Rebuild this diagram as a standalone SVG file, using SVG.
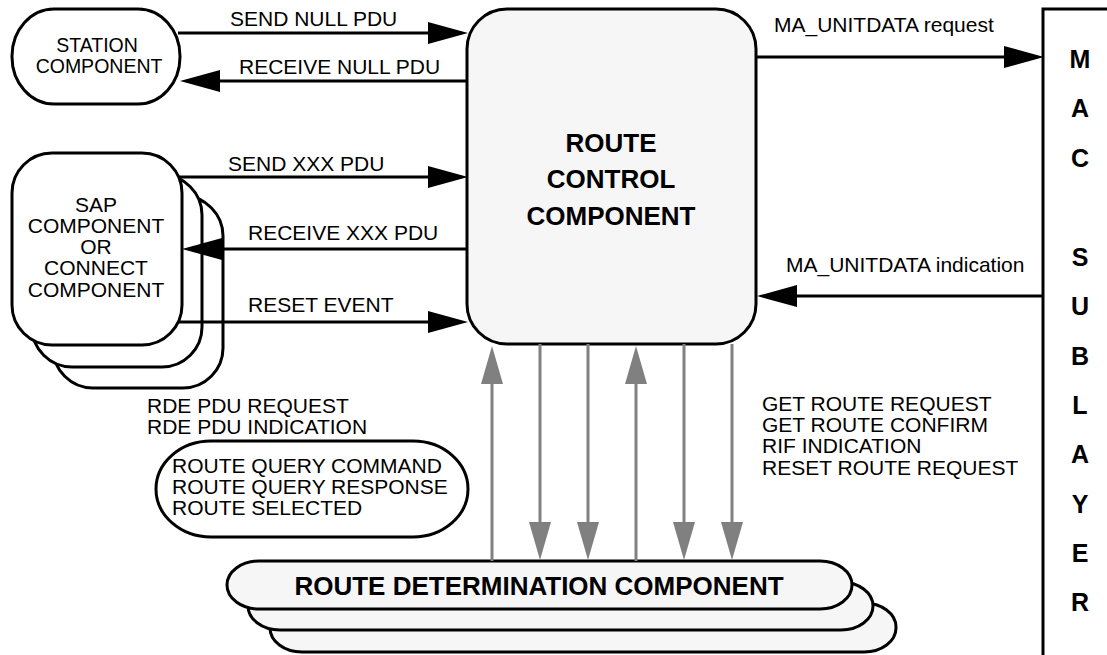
<svg xmlns="http://www.w3.org/2000/svg" width="1107" height="655" viewBox="0 0 1107 655">
<style>
  .box { fill: #ffffff; stroke: #000000; stroke-width: 3; }
  .gbox { fill: #f6f6f6; stroke: #000000; stroke-width: 3; }
  .t { font-family: "Liberation Sans", Arial, sans-serif; font-size: 21px; fill: #000000; }
  .ts { font-family: "Liberation Sans", Arial, sans-serif; font-size: 19.5px; fill: #000000; }
  .tb { font-family: "Liberation Sans", Arial, sans-serif; font-size: 26px; font-weight: bold; fill: #000000; }
  .tm { font-family: "Liberation Sans", Arial, sans-serif; font-size: 25px; font-weight: bold; fill: #000000; }
  .c { text-anchor: middle; }
  .blk { stroke: #000000; stroke-width: 3; fill: none; marker-end: url(#ah); }
  .gry { stroke: #808080; stroke-width: 3; fill: none; marker-end: url(#gh); }
</style>
<defs>
  <marker id="ah" markerUnits="userSpaceOnUse" markerWidth="40" markerHeight="22" refX="0" refY="11" orient="auto" viewBox="0 0 40 22">
    <path d="M0,0 L40,11 L0,22 z" fill="#000000"/>
  </marker>
  <marker id="gh" markerUnits="userSpaceOnUse" markerWidth="38" markerHeight="22" refX="0" refY="11" orient="auto" viewBox="0 0 38 22">
    <path d="M0,0 L38,11 L0,22 z" fill="#808080"/>
  </marker>
</defs>

<g id="station">
  <rect class="box" x="12" y="9" width="168" height="95" rx="42" ry="47"/>
  <text class="ts c" x="97" y="52">STATION</text>
  <text class="ts c" x="99" y="73">COMPONENT</text>
</g>

<g id="sap">
  <rect class="box" x="53" y="196" width="170" height="192" rx="40" ry="40"/>
  <rect class="box" x="32" y="175" width="170" height="192" rx="40" ry="40"/>
  <rect class="box" x="12" y="153" width="170" height="192" rx="40" ry="40"/>
  <text class="t c" x="96" y="212">SAP</text>
  <text class="t c" x="96" y="233">COMPONENT</text>
  <text class="t c" x="96" y="254">OR</text>
  <text class="t c" x="96" y="275">CONNECT</text>
  <text class="t c" x="96" y="297">COMPONENT</text>
</g>

<g id="route-control">
  <rect class="gbox" x="467" y="9" width="289" height="335" rx="40" ry="40"/>
  <text class="tb c" x="611" y="152">ROUTE</text>
  <text class="tb c" x="611" y="188">CONTROL</text>
  <text class="tb c" x="611" y="225">COMPONENT</text>
</g>

<g id="mac-sublayer">
  <rect class="box" x="1043" y="9" width="120" height="700"/>
  <text class="tm c" x="1080" y="68">M</text>
  <text class="tm c" x="1080" y="117">A</text>
  <text class="tm c" x="1080" y="167">C</text>
  <text class="tm c" x="1080" y="266">S</text>
  <text class="tm c" x="1080" y="315">U</text>
  <text class="tm c" x="1080" y="365">B</text>
  <text class="tm c" x="1080" y="414">L</text>
  <text class="tm c" x="1080" y="463">A</text>
  <text class="tm c" x="1080" y="513">Y</text>
  <text class="tm c" x="1080" y="562">E</text>
  <text class="tm c" x="1080" y="611">R</text>
</g>

<g id="route-query">
  <rect class="box" x="156" y="441" width="312" height="96" rx="55" ry="48"/>
  <text class="t" x="172" y="473">ROUTE QUERY COMMAND</text>
  <text class="t" x="172" y="494">ROUTE QUERY RESPONSE</text>
  <text class="t" x="172" y="515">ROUTE SELECTED</text>
</g>

<g id="route-determination">
  <rect class="gbox" x="270" y="603" width="626" height="49" rx="32" ry="24"/>
  <rect class="gbox" x="248" y="582" width="625" height="48" rx="32" ry="24"/>
  <rect class="gbox" x="227" y="561" width="625" height="48" rx="32" ry="24"/>
  <text class="tb c" x="539" y="595">ROUTE DETERMINATION COMPONENT</text>
</g>

<g id="connectors">
  <line class="blk" x1="178" y1="33" x2="428" y2="33"/>
  <line class="blk" x1="467" y1="81" x2="220" y2="81"/>
  <line class="blk" x1="178" y1="177" x2="428" y2="177"/>
  <line class="blk" x1="467" y1="249" x2="222" y2="249"/>
  <line class="blk" x1="178" y1="322" x2="428" y2="322"/>
  <line class="blk" x1="756" y1="57" x2="1004" y2="57"/>
  <line class="blk" x1="1043" y1="296" x2="797" y2="296"/>

  <line class="gry" x1="492" y1="561" x2="492" y2="384"/>
  <line class="gry" x1="540" y1="344" x2="540" y2="522"/>
  <line class="gry" x1="588" y1="344" x2="588" y2="522"/>
  <line class="gry" x1="636" y1="561" x2="636" y2="384"/>
  <line class="gry" x1="684" y1="344" x2="684" y2="522"/>
  <line class="gry" x1="732" y1="344" x2="732" y2="522"/>
</g>

<g id="labels">
  <text class="t" x="230" y="26">SEND NULL PDU</text>
  <text class="t" x="239" y="74">RECEIVE NULL PDU</text>
  <text class="t" x="228" y="171">SEND XXX PDU</text>
  <text class="t" x="248" y="240">RECEIVE XXX PDU</text>
  <text class="t" x="248" y="312">RESET EVENT</text>
  <text class="t" x="774" y="32">MA_UNITDATA request</text>
  <text class="t" x="786" y="272">MA_UNITDATA indication</text>
  <text class="t" x="147" y="413">RDE PDU REQUEST</text>
  <text class="t" x="147" y="434">RDE PDU INDICATION</text>
  <text class="t" x="762" y="411">GET ROUTE REQUEST</text>
  <text class="t" x="762" y="432">GET ROUTE CONFIRM</text>
  <text class="t" x="762" y="453">RIF INDICATION</text>
  <text class="t" x="762" y="475">RESET ROUTE REQUEST</text>
</g>
</svg>
